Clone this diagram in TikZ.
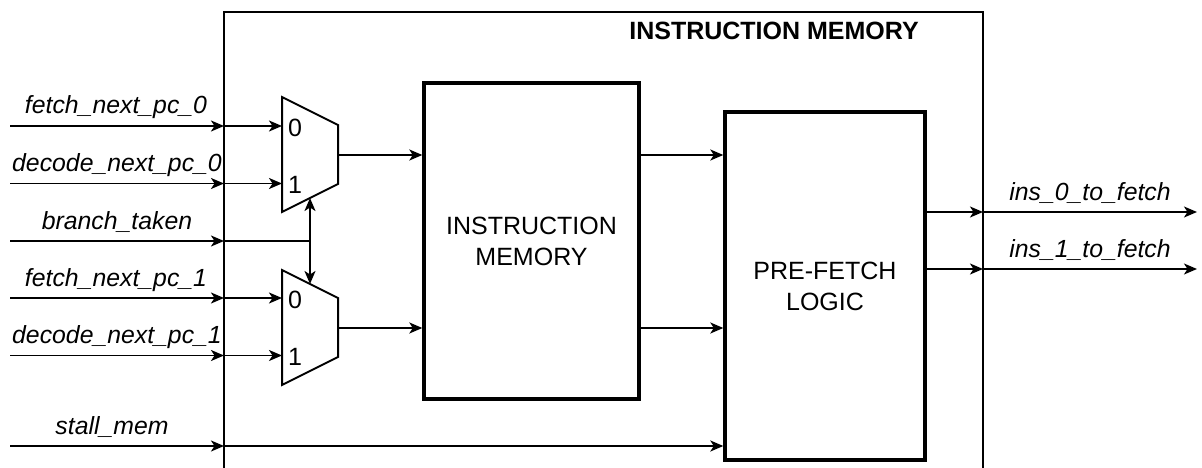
\documentclass[tikz,border=0pt]{standalone}
\usepackage{fontspec}
\setmainfont{Liberation Sans}
\usetikzlibrary{arrows.meta}
\begin{document}
\begin{tikzpicture}[x=1pt,y=-1pt,
  arr/.tip={Stealth[length=13pt,width=11pt,inset=3.5pt]},
  wire/.style={line width=1.8pt,-arr},
  dwire/.style={line width=1.8pt,arr-arr},
  plain/.style={line width=1.8pt},
  blk/.style={draw,line width=3.4pt,inner sep=0pt,align=center,
    font=\fontsize{25}{31}\selectfont},
  muxshape/.style={draw,line width=2pt,line join=miter},
  lab/.style={font=\itshape\fontsize{24.8}{29}\selectfont,anchor=base,inner sep=0pt},
  dig/.style={font=\fontsize{25}{29}\selectfont,inner sep=0pt},
  ttl/.style={font=\bfseries\fontsize{25}{29}\selectfont,anchor=base,inner sep=0pt}
]
\useasboundingbox (0,0) rectangle (1202,468);

% outer module outline (open at bottom)
\draw[plain] (224,468) -- (224,12) -- (983,12) -- (983,468);
\node[ttl] (title) at (774,40) {INSTRUCTION MEMORY};

% blocks
\node[blk,minimum width=215pt,minimum height=316pt] (im) at (531.5,241) {INSTRUCTION\\MEMORY};
\node[blk,minimum width=200pt,minimum height=348pt] (plb) at (825,286) {PRE-FETCH\\LOGIC};

% muxes
\draw[muxshape] (282,97) coordinate (m1tl) -- (338,125) -- (338,184) -- (282,212) coordinate (m1bl) -- cycle;
\draw[muxshape] (282,270) coordinate (m2tl) -- (338,298) -- (338,357) -- (282,385) coordinate (m2bl) -- cycle;
\coordinate (m1i0) at (282,126);
\coordinate (m1i1) at (282,183.5);
\coordinate (m1o) at (338,155);
\coordinate (m2i0) at (282,298);
\coordinate (m2i1) at (282,355.5);
\coordinate (m2o) at (338,328);
\coordinate (m1sel) at (310,198);
\coordinate (m2sel) at (310,284);
\node[dig] (d10) at (295,128) {0};
\node[dig] (d11) at (295,185) {1};
\node[dig] (d20) at (295,300) {0};
\node[dig] (d21) at (295,357) {1};

% input ports
\foreach \n/\y in {a/126,b/183.5,c/241,d/298,e/355.5,f/446}{
  \coordinate (src\n) at (10,\y);
  \coordinate (port\n) at (224,\y);
  \draw[wire] (src\n) -- (port\n);
}
\node[lab] (la) at (116,114) {fetch\_next\_pc\_0};
\node[lab] (lb) at (117,171.5) {decode\_next\_pc\_0};
\node[lab] (lc) at (117,229) {branch\_taken};
\node[lab] (ld) at (116,286) {fetch\_next\_pc\_1};
\node[lab] (le) at (117,343.5) {decode\_next\_pc\_1};
\node[lab] (lf) at (112,434) {stall\_mem};

\draw[wire] (porta) -- (m1i0);
\draw[wire] (portb) -- (m1i1);
\draw[wire] (portd) -- (m2i0);
\draw[wire] (porte) -- (m2i1);
\coordinate (bj) at (310,241);
\draw[plain] (portc) -- (bj);
\draw[dwire] (m1sel) -- (m2sel);
\draw[wire] (portf) -- (plb.west |- portf);

% mux -> IM -> PF
\draw[wire] (m1o) -- (im.west |- m1o);
\draw[wire] (m2o) -- (im.west |- m2o);
\draw[wire] (im.east |- m1o) -- (plb.west |- m1o);
\draw[wire] (im.east |- m2o) -- (plb.west |- m2o);

% outputs
\coordinate (o0) at (983,212);
\coordinate (o1) at (983,269);
\coordinate (e0) at (1197,212);
\coordinate (e1) at (1197,269);
\draw[wire] (plb.east |- o0) -- (o0);
\draw[wire] (plb.east |- o1) -- (o1);
\draw[wire] (o0) -- (e0);
\draw[wire] (o1) -- (e1);
\node[lab] (lo0) at (1090,200) {ins\_0\_to\_fetch};
\node[lab] (lo1) at (1090,257) {ins\_1\_to\_fetch};
\end{tikzpicture}
\end{document}
